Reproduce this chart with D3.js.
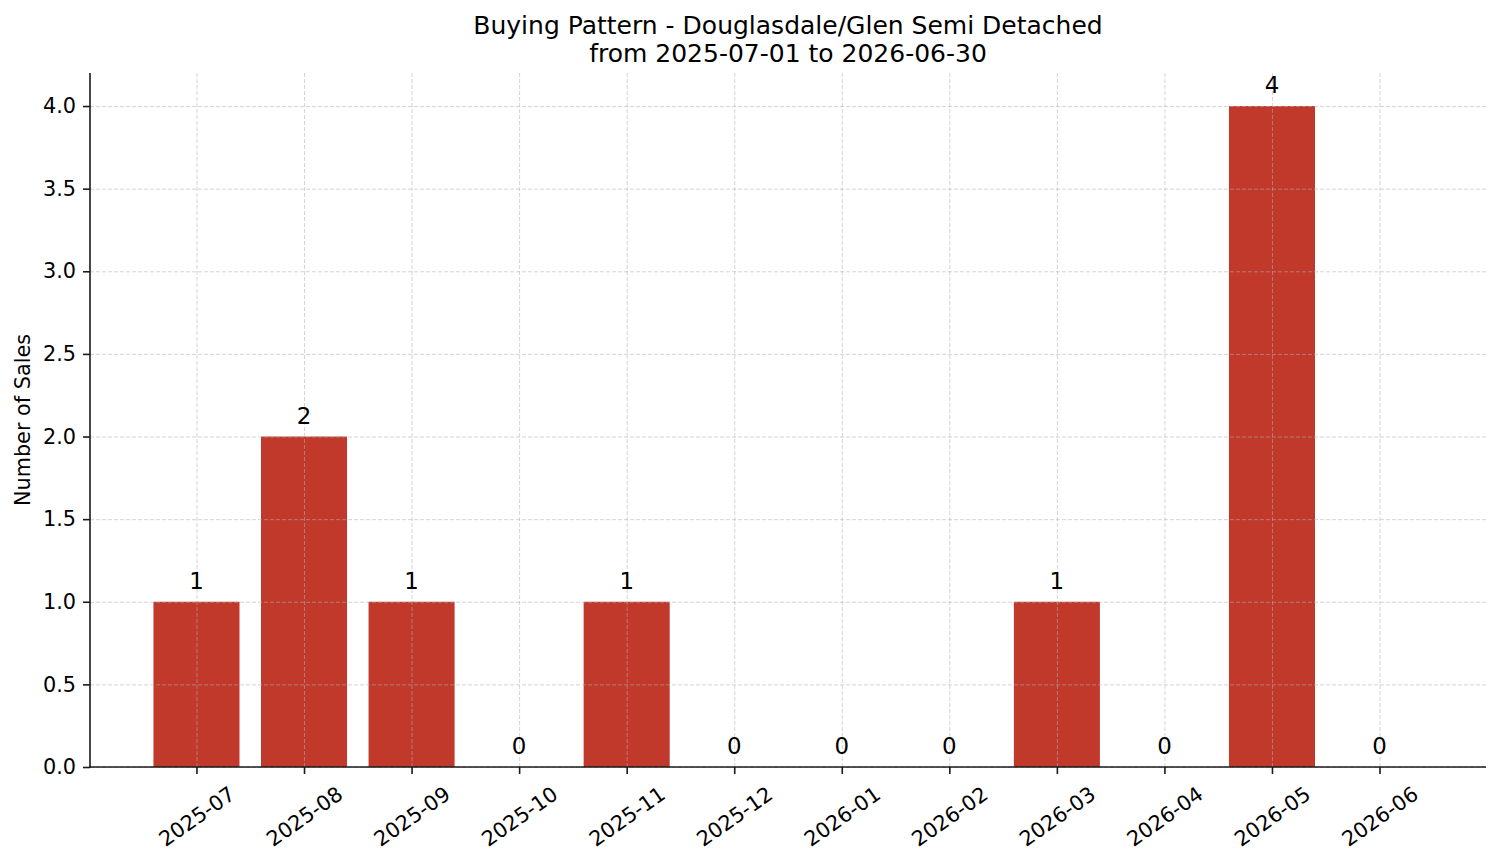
<!DOCTYPE html>
<html>
<head>
<meta charset="utf-8">
<script src="https://cdn.jsdelivr.net/npm/d3@7"></script>
<style>
  html, body { margin: 0; padding: 0; background: #fff; }
  svg { display: block; font-family: "DejaVu Sans", sans-serif; }
</style>
</head>
<body>
<svg id="chart" width="1501" height="863"></svg>
<script>
const months = ["2025-07","2025-08","2025-09","2025-10","2025-11","2025-12","2026-01","2026-02","2026-03","2026-04","2026-05","2026-06"];
const sales = [1, 2, 1, 0, 1, 0, 0, 0, 1, 0, 4, 0];
const yTicks = [0, 0.5, 1.0, 1.5, 2.0, 2.5, 3.0, 3.5, 4.0];
const titleLines = ["Buying Pattern - Douglasdale/Glen Semi Detached", "from 2025-07-01 to 2026-06-30"];
const yLabel = "Number of Sales";

const W = 1501, H = 863;
const L = 90, R = 1486, T = 73, B = 767;
const barW = 0.8;
const barColor = "#c0392b";

const svg = d3.select("#chart");

const lo = -barW / 2, hi = months.length - 1 + barW / 2;
const pad = 0.05 * (hi - lo);
const x = d3.scaleLinear().domain([lo - pad, hi + pad]).range([L, R]);
const y = d3.scaleLinear().domain([0, d3.max(sales) * 1.05]).range([B, T]);

// bars
svg.append("g").selectAll("rect").data(sales).join("rect")
  .attr("x", (d, i) => x(i - barW / 2))
  .attr("width", (d, i) => x(i + barW / 2) - x(i - barW / 2))
  .attr("y", d => y(d))
  .attr("height", d => y(0) - y(d))
  .attr("fill", barColor);

// grid (drawn on top)
const grid = svg.append("g").attr("stroke", "#b0b0b0").attr("stroke-opacity", 0.55)
  .attr("stroke-width", 1).attr("stroke-dasharray", "4,2");
grid.selectAll("line.h").data(yTicks).join("line").attr("class", "h")
  .attr("x1", L).attr("x2", R).attr("y1", d => y(d) + 0.5).attr("y2", d => y(d) + 0.5);
grid.selectAll("line.v").data(months).join("line").attr("class", "v")
  .attr("x1", (d, i) => x(i) + 0.5).attr("x2", (d, i) => x(i) + 0.5).attr("y1", T).attr("y2", B);

// y axis
const yAxis = d3.axisLeft(y).tickValues(yTicks).tickFormat(d3.format(".1f"))
  .tickSize(7).tickPadding(7);
const gy = svg.append("g").attr("transform", `translate(${L},0)`).call(yAxis);
gy.select(".domain").remove();
gy.selectAll(".tick line").attr("stroke", "#1a1a1a").attr("stroke-width", 1.6);
gy.selectAll(".tick text").attr("font-size", "20.8px").attr("fill", "#000")
  .attr("font-family", "DejaVu Sans, sans-serif");

// x axis
const xAxis = d3.axisBottom(x).tickValues(d3.range(months.length)).tickFormat(i => months[i])
  .tickSize(7).tickPadding(7);
const gx = svg.append("g").attr("transform", `translate(0,${B})`).call(xAxis);
gx.select(".domain").remove();
gx.selectAll(".tick line").attr("stroke", "#1a1a1a").attr("stroke-width", 1.6);
gx.selectAll(".tick text")
  .attr("font-size", "20.8px").attr("fill", "#000").attr("font-family", "DejaVu Sans, sans-serif")
  .attr("text-anchor", "middle")
  .attr("y", 0).attr("dy", "0.346em")
  .attr("transform", "translate(0,49.5) rotate(-35)");

// spines
svg.append("line").attr("x1", L).attr("x2", L).attr("y1", T).attr("y2", B + 0.8)
  .attr("stroke", "#1a1a1a").attr("stroke-width", 1.6);
svg.append("line").attr("x1", L - 0.8).attr("x2", R).attr("y1", B).attr("y2", B)
  .attr("stroke", "#1a1a1a").attr("stroke-width", 1.6);

// value labels
svg.append("g").selectAll("text").data(sales).join("text")
  .attr("x", (d, i) => x(i))
  .attr("y", d => y(d) - 13)
  .attr("text-anchor", "middle")
  .attr("font-size", "22.9px")
  .attr("fill", "#000")
  .text(d => d);

// title
svg.append("g").selectAll("text").data(titleLines).join("text")
  .attr("x", (L + R) / 2)
  .attr("y", (d, i) => 34 + i * 28)
  .attr("text-anchor", "middle")
  .attr("font-size", "25px")
  .attr("fill", "#000")
  .text(d => d);

// y label
svg.append("text")
  .attr("transform", `translate(30,${(T + B) / 2}) rotate(-90)`)
  .attr("text-anchor", "middle")
  .attr("font-size", "20.8px")
  .attr("fill", "#000")
  .text(yLabel);
</script>
</body>
</html>
